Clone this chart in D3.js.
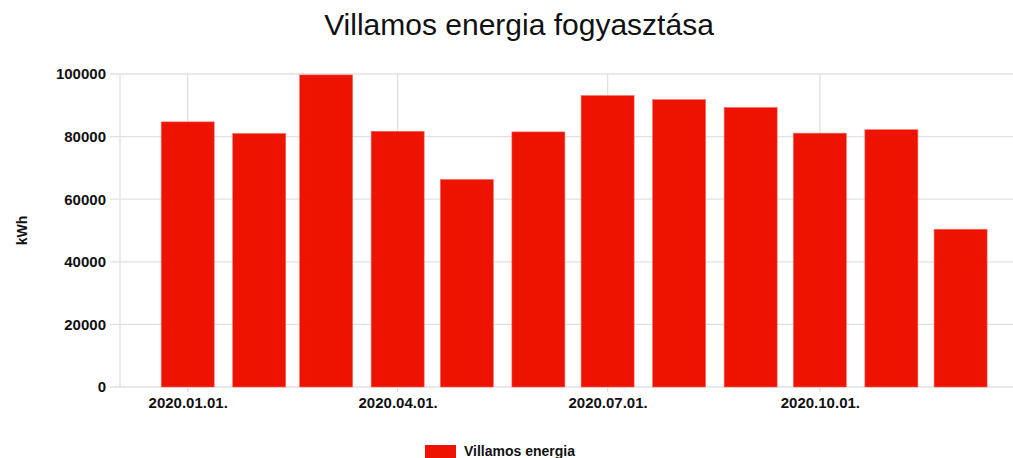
<!DOCTYPE html>
<html>
<head>
<meta charset="utf-8">
<script src="https://cdn.jsdelivr.net/npm/d3@7"></script>
<style>
  body { margin: 0; background: #fff; }
  svg { display: block; font-family: "Liberation Sans", Arial, sans-serif; }
</style>
</head>
<body>
<div id="chart"></div>
<script>
// monthly data
var months = ["2020-01-01", "2020-02-01", "2020-03-01", "2020-04-01", "2020-05-01", "2020-06-01",
              "2020-07-01", "2020-08-01", "2020-09-01", "2020-10-01", "2020-11-01", "2020-12-01"];
var consumption = [84700, 81000, 99700, 81700, 66300, 81500, 93100, 91800, 89300, 81100, 82200, 50400];
var yTicks = [0, 20000, 40000, 60000, 80000, 100000];
var seriesName = "Villamos energia";
var chartTitle = "Villamos energia fogyasztása";
var yLabel = "kWh";

var width = 1013, height = 458;
var margin = {top: 74, right: 0, bottom: 71, left: 120};
var plotW = width - margin.left - margin.right;
var plotH = height - margin.top - margin.bottom;
var barColor = "#ee1200";
var gridColor = "#e0e0e0";

var parse = d3.timeParse("%Y-%m-%d");
var data = months.map(function (m, i) { return {date: parse(m), value: consumption[i]}; });

var svg = d3.select("#chart").append("svg")
    .attr("width", width)
    .attr("height", height);

// title
svg.append("text")
    .attr("x", 519)
    .attr("y", 35)
    .attr("text-anchor", "middle")
    .style("font-size", "30px")
    .style("fill", "#111")
    .text(chartTitle);

var g = svg.append("g")
    .attr("transform", "translate(" + margin.left + "," + margin.top + ")");

// time scale: first/last month sit inside the plot frame
var x = d3.scaleTime()
    .domain(d3.extent(data, function (d) { return d.date; }))
    .range([67.7, 840.6]);

var y = d3.scaleLinear()
    .domain([0, 100000])
    .range([plotH, 0]);

var barW = 53;

// horizontal grid + y tick marks
g.selectAll(".hgrid")
    .data(yTicks)
    .enter().append("line")
    .attr("class", "hgrid")
    .attr("x1", -10)
    .attr("x2", plotW)
    .attr("y1", function (d) { return y(d); })
    .attr("y2", function (d) { return y(d); })
    .attr("stroke", gridColor)
    .attr("stroke-width", 1.3);

// vertical grid: left frame + quarter ticks
var xTicks = x.ticks(d3.timeMonth.every(3));
g.append("line")
    .attr("x1", 0).attr("x2", 0)
    .attr("y1", 0).attr("y2", plotH)
    .attr("stroke", gridColor)
    .attr("stroke-width", 1.3);

g.selectAll(".vgrid")
    .data(xTicks)
    .enter().append("line")
    .attr("class", "vgrid")
    .attr("x1", function (d) { return x(d); })
    .attr("x2", function (d) { return x(d); })
    .attr("y1", 0)
    .attr("y2", plotH + 5)
    .attr("stroke", gridColor)
    .attr("stroke-width", 1.3);

// bars
g.selectAll(".bar")
    .data(data)
    .enter().append("rect")
    .attr("class", "bar")
    .attr("x", function (d) { return x(d.date) - barW / 2; })
    .attr("y", function (d) { return y(d.value); })
    .attr("width", barW)
    .attr("height", function (d) { return plotH - y(d.value); })
    .attr("fill", barColor)
    .attr("stroke", "#f26a5e")
    .attr("stroke-width", 0.6);

// y axis labels
var yAxis = d3.axisLeft(y)
    .tickValues(yTicks)
    .tickSize(0)
    .tickPadding(14)
    .tickFormat(d3.format("d"));

var yAxisG = g.append("g").call(yAxis);
yAxisG.select(".domain").remove();
yAxisG.selectAll("text")
    .style("font-size", "15px")
    .style("font-weight", "bold")
    .style("fill", "#111")
    .style("font-family", "'Liberation Sans', Arial, sans-serif");

// x axis labels
var xAxis = d3.axisBottom(x)
    .tickValues(xTicks)
    .tickSize(0)
    .tickPadding(10)
    .tickFormat(d3.timeFormat("%Y.%m.%d."));

var xAxisG = g.append("g")
    .attr("transform", "translate(0," + plotH + ")")
    .call(xAxis);
xAxisG.select(".domain").remove();
xAxisG.selectAll("text")
    .style("font-size", "15px")
    .style("font-weight", "bold")
    .style("fill", "#111")
    .style("font-family", "'Liberation Sans', Arial, sans-serif");

// y axis title
svg.append("text")
    .attr("transform", "translate(27," + (margin.top + plotH / 2) + ") rotate(-90)")
    .attr("text-anchor", "middle")
    .style("font-size", "14px")
    .style("font-weight", "bold")
    .style("fill", "#111")
    .text(yLabel);

// legend (sits at the very bottom edge, as in the reference)
var legend = svg.append("g").attr("transform", "translate(425,445)");
legend.append("rect")
    .attr("width", 31)
    .attr("height", 13)
    .attr("fill", barColor);
legend.append("text")
    .attr("x", 39)
    .attr("y", 10.5)
    .style("font-size", "14px")
    .style("font-weight", "bold")
    .style("fill", "#111")
    .text(seriesName);
</script>
</body>
</html>
